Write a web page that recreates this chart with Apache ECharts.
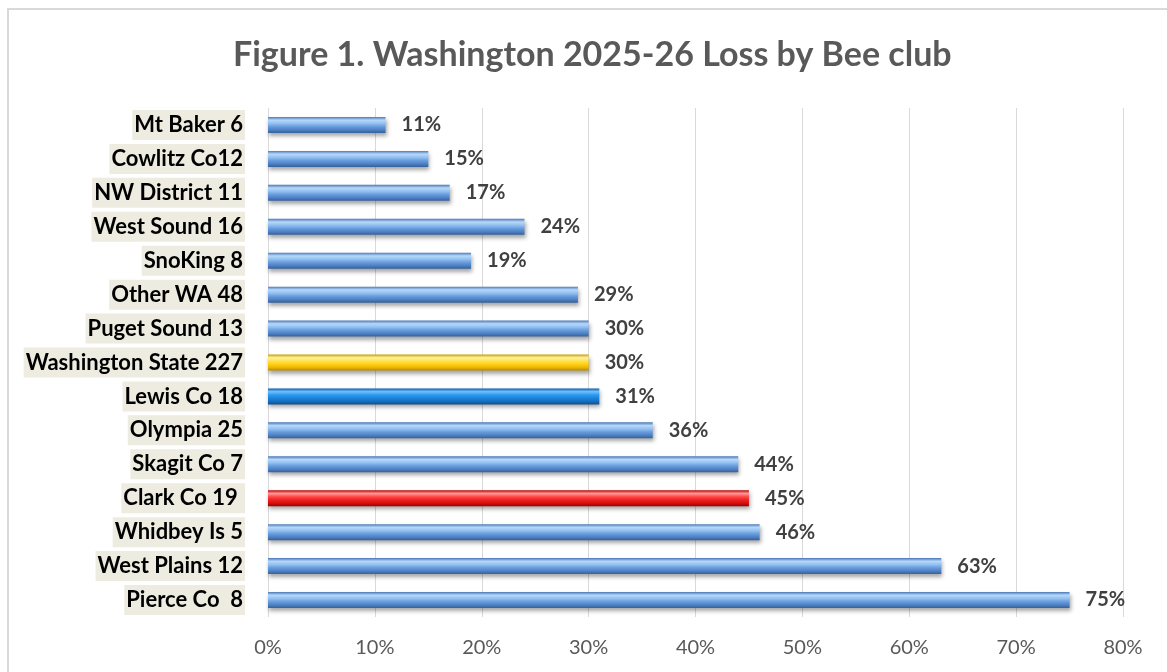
<!DOCTYPE html>
<html>
<head>
<meta charset="utf-8">
<script src="https://cdn.jsdelivr.net/npm/echarts@6/dist/echarts.min.js"></script>
<style>
  html, body { margin: 0; padding: 0; background: #fff; }
  #chart { width: 1167px; height: 672px; }
</style>
</head>
<body>
<div id="chart"></div>
<script>
const titleText = 'Figure 1. Washington 2025-26 Loss by Bee club';
const categories = ['Mt Baker 6', 'Cowlitz Co12', 'NW District 11', 'West Sound 16', 'SnoKing 8',
  'Other WA 48', 'Puget Sound 13', 'Washington State 227', 'Lewis Co 18', 'Olympia 25',
  'Skagit Co 7', 'Clark Co 19 ', 'Whidbey Is 5', 'West Plains 12', 'Pierce Co  8'];
const lossPct = [11, 15, 17, 24, 19, 29, 30, 30, 31, 36, 44, 45, 46, 63, 75];
const xTicks = [0, 10, 20, 30, 40, 50, 60, 70, 80];

function grad(stops) {
  return new echarts.graphic.LinearGradient(0, 0, 0, 1,
    stops.map((c, i) => ({ offset: i / (stops.length - 1), color: c })));
}
const blueFill = grad(['#4a78b8', '#b7d8fa', '#93c1f1', '#6a9ddd', '#4f82c6', '#35609a']);
const specialFill = {
  'Washington State 227': grad(['#c9a000', '#fff1a0', '#ffe34d', '#ffd11a', '#f0b800', '#b88a00']),
  'Lewis Co 18': grad(['#0b5aa8', '#6fc0ff', '#2f9af0', '#1b84dc', '#1570c2', '#0d4f8e']),
  'Clark Co 19 ': grad(['#b80000', '#ff9a9a', '#ff4a4a', '#f02020', '#d61010', '#9a0000'])
};

const seriesData = categories.map((c, i) => ({
  value: lossPct[i],
  itemStyle: { color: specialFill[c] || blueFill }
}));

const chart = echarts.init(document.getElementById('chart'), null, { renderer: 'canvas' });
chart.setOption({
  animation: false,
  backgroundColor: '#ffffff',
  textStyle: { fontFamily: 'Lato, "Open Sans", sans-serif' },
  title: {
    text: titleText,
    left: 228,
    top: 33,
    textStyle: { fontFamily: 'Lato, "Open Sans", sans-serif', fontSize: 34, fontWeight: 'bold', color: '#595959' }
  },
  graphic: [{
    type: 'rect', silent: true, z: -1,
    shape: { x: 8, y: 9, width: 1300, height: 800 },
    style: { fill: 'none', stroke: '#d9d9d9', lineWidth: 2 }
  }],
  grid: { left: 268, right: 44, top: 108, bottom: 55, containLabel: false },
  xAxis: {
    type: 'value',
    min: 0, max: 80, interval: 10,
    axisLine: { show: false },
    axisTick: { show: false },
    splitLine: { show: true, lineStyle: { color: '#d9d9d9', width: 1 } },
    axisLabel: {
      margin: 21,
      fontSize: 20,
      color: '#595959',
      formatter: v => (xTicks.indexOf(v) >= 0 ? v + '%' : '')
    }
  },
  yAxis: {
    type: 'category',
    inverse: true,
    data: categories,
    axisLine: { show: false },
    axisTick: { show: false },
    splitLine: { show: false },
    axisLabel: {
      margin: 23,
      fontSize: 22,
      fontWeight: 'bold',
      color: '#000000',
      lineHeight: 22,
      backgroundColor: '#eeece1',
      padding: [4, 2, 4, 2]
    }
  },
  series: [{
    type: 'bar',
    data: seriesData,
    barWidth: 16,
    itemStyle: {
      shadowColor: 'rgba(0,0,0,0.35)',
      shadowBlur: 4,
      shadowOffsetY: 3,
      shadowOffsetX: 1
    },
    label: {
      show: true,
      position: 'right',
      distance: 16,
      fontSize: 20,
      fontWeight: 'bold',
      color: '#404040',
      formatter: p => p.value + '%'
    }
  }]
});
</script>
</body>
</html>
